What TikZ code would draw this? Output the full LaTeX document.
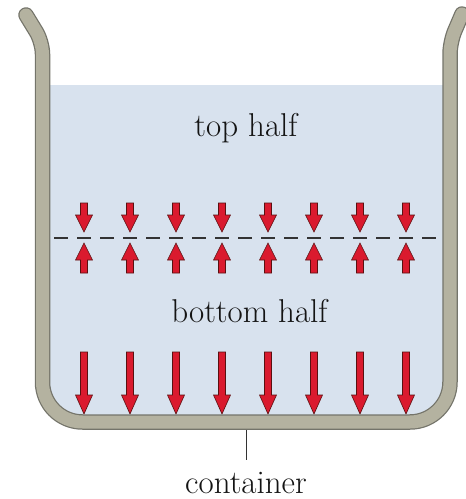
\documentclass[tikz,border=0pt]{standalone}
\usepackage{tikz}
\definecolor{water}{HTML}{D8E2EE}
\definecolor{wallfill}{HTML}{B4B2A0}
\definecolor{walledge}{HTML}{74746A}
\definecolor{arrowred}{HTML}{DA1A2E}
\definecolor{arrowedge}{HTML}{5A1010}
\definecolor{dashgray}{HTML}{333333}
\tikzset{
  redarrow/.style={fill=arrowred, draw=arrowedge, line width=0.6pt, line join=miter},
  lbl/.style={font=\fontsize{33}{36}\selectfont, text=black!92, anchor=base, inner sep=0pt},
  wallpath/.style={line cap=round, line join=round},
}
\begin{document}
\begin{tikzpicture}[x=1pt,y=-1pt]
\useasboundingbox (0,0) rectangle (466,499);
% water
\fill[water] (42.5,85) [rounded corners=40pt] -- (42.5,422) -- (450,422) [sharp corners] -- (450,85) -- cycle;
% dashed line
\draw[dashgray, line width=2.6pt, dash pattern=on 14pt off 9pt] (54,238) -- (437,238);
% arrows
\foreach \x in {84,130,...,406} {
  \draw[redarrow] (\x-3.5,203) -- (\x+3.5,203) -- (\x+3.5,215) -- (\x+8.5,215) -- (\x,232) -- (\x-8.5,215) -- (\x-3.5,215) -- cycle;
  \draw[redarrow] (\x-3.5,273) -- (\x+3.5,273) -- (\x+3.5,260) -- (\x+8.5,260) -- (\x,243) -- (\x-8.5,260) -- (\x-3.5,260) -- cycle;
  \draw[redarrow] (\x-3.5,352) -- (\x+3.5,352) -- (\x+3.5,395) -- (\x+8.5,395) -- (\x,414) -- (\x-8.5,395) -- (\x-3.5,395) -- cycle;
}
% container wall
\foreach \col/\w in {walledge/15.5pt, wallfill/13pt} {
  \draw[wallpath, \col, line width=\w]
    (26,15) [rounded corners=12pt] -- (42.5,42) [rounded corners=40pt] -- (42.5,422) -- (450,422) [rounded corners=12pt] -- (450,42) -- (462,14);
}
% pointer
\coordinate (ptop) at (246,430);
\coordinate (pbot) at (246,460);
\draw[black!80, line width=1pt] (ptop) -- (pbot);
% labels
\node[lbl] (top) at (246,136) {top half};
\node[lbl] (bottom) at (249.5,322) {bottom half};
\node[lbl] (cont) at (246,493) {container};
\end{tikzpicture}
\end{document}
